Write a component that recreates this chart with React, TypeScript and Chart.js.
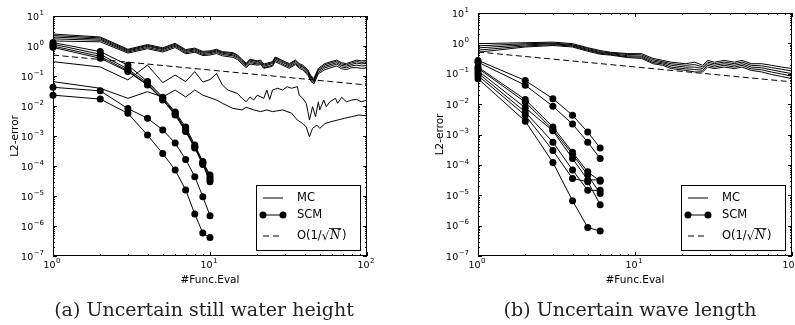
import React, { useEffect, useRef } from "react";
import { Chart, registerables } from "chart.js";

Chart.register(...registerables);

// ---------- (a) Uncertain still water height ----------
// Monte Carlo runs: five close runs plus two low ones
const leftMcN = [1, 2, 3, 4, 5, 6, 7, 8, 9, 10, 11, 12, 14, 15, 16, 17, 18, 20, 21, 22, 25, 26, 28, 30, 32, 35, 37, 39, 42, 44, 46, 47, 49, 54, 59, 64, 69, 74, 80, 86, 92, 100];
const leftMc1 = [2.5, 2.0, 0.78, 1.12, 0.87, 1.23, 0.76, 0.85, 0.66, 0.69, 0.78, 0.65, 0.6, 0.5, 0.355, 0.27, 0.36, 0.32, 0.34, 0.25, 0.3, 0.43, 0.36, 0.3, 0.26, 0.34, 0.26, 0.23, 0.16, 0.1, 0.083, 0.11, 0.18, 0.26, 0.3, 0.34, 0.275, 0.26, 0.3, 0.34, 0.32, 0.33];
const leftMc2 = [2.23, 1.86, 0.73, 1.05, 0.81, 1.15, 0.71, 0.79, 0.62, 0.64, 0.73, 0.61, 0.56, 0.47, 0.33, 0.25, 0.34, 0.3, 0.32, 0.23, 0.28, 0.4, 0.34, 0.28, 0.24, 0.32, 0.24, 0.21, 0.146, 0.091, 0.076, 0.1, 0.164, 0.237, 0.274, 0.31, 0.25, 0.237, 0.274, 0.303, 0.285, 0.294];
const leftMc3 = [1.99, 1.7, 0.68, 0.98, 0.76, 1.07, 0.66, 0.74, 0.57, 0.6, 0.68, 0.57, 0.51, 0.43, 0.3, 0.23, 0.31, 0.27, 0.29, 0.21, 0.26, 0.37, 0.31, 0.26, 0.22, 0.29, 0.22, 0.2, 0.133, 0.083, 0.069, 0.092, 0.15, 0.211, 0.244, 0.276, 0.224, 0.211, 0.244, 0.27, 0.254, 0.262];
const leftMc4 = [1.73, 1.55, 0.63, 0.89, 0.69, 0.98, 0.6, 0.68, 0.52, 0.55, 0.62, 0.52, 0.47, 0.39, 0.28, 0.21, 0.28, 0.25, 0.26, 0.19, 0.23, 0.33, 0.28, 0.23, 0.2, 0.26, 0.2, 0.18, 0.119, 0.074, 0.062, 0.082, 0.133, 0.188, 0.217, 0.246, 0.199, 0.188, 0.217, 0.23, 0.216, 0.223];
const leftMc5 = [1.47, 1.38, 0.58, 0.81, 0.63, 0.89, 0.55, 0.62, 0.48, 0.5, 0.56, 0.47, 0.42, 0.35, 0.25, 0.19, 0.25, 0.23, 0.24, 0.18, 0.21, 0.3, 0.25, 0.21, 0.18, 0.24, 0.18, 0.16, 0.106, 0.066, 0.055, 0.073, 0.119, 0.164, 0.189, 0.215, 0.174, 0.164, 0.189, 0.19, 0.18, 0.185];

const leftMcLowAN = [1, 2, 3, 4, 5, 6, 7, 8, 9, 10, 11, 12, 13, 15, 16, 17, 18, 19, 20, 22, 23, 24, 25, 27, 29, 31, 33, 36, 37, 39, 41, 42, 43, 45, 47, 49, 50, 53, 55, 58, 63, 65, 69, 74, 80, 86, 92, 100];
const leftMcLowA = [0.3, 0.2, 0.074, 0.23, 0.06, 0.107, 0.065, 0.14, 0.063, 0.076, 0.12, 0.05, 0.034, 0.026, 0.018, 0.0138, 0.02, 0.0158, 0.023, 0.018, 0.034, 0.0166, 0.034, 0.039, 0.034, 0.044, 0.039, 0.044, 0.023, 0.018, 0.0123, 0.0065, 0.0034, 0.0095, 0.0044, 0.0138, 0.0074, 0.0158, 0.0095, 0.0138, 0.018, 0.0123, 0.0195, 0.0138, 0.0158, 0.0166, 0.0138, 0.0158];

const leftMcLowBN = [1, 2, 3, 4, 5, 6, 7, 8, 9, 11, 12, 14, 16, 17, 19, 21, 23, 25, 29, 33, 36, 39, 41, 43, 45, 48, 50, 54, 59, 65, 72, 80, 88, 100];
const leftMcLowB = [0.065, 0.039, 0.018, 0.03, 0.02, 0.034, 0.02, 0.034, 0.023, 0.0158, 0.0123, 0.0083, 0.0074, 0.0091, 0.0074, 0.0065, 0.0074, 0.0065, 0.0074, 0.0058, 0.0034, 0.0026, 0.002, 0.00095, 0.0018, 0.0023, 0.0018, 0.0026, 0.003, 0.0034, 0.0039, 0.0044, 0.005, 0.0047];

// Stochastic collocation runs
const leftScmN = [1, 2, 3, 4, 5, 6, 7, 8, 9, 10];
const leftScm1 = [1.3, 0.65, 0.23, 0.065, 0.0195, 0.0063, 0.002, 0.0005, 0.00014, 0.00005];
const leftScm2 = [1.15, 0.53, 0.17, 0.058, 0.018, 0.0058, 0.0017, 0.00045, 0.00013, 0.000042];
const leftScm3 = [1.0, 0.45, 0.15, 0.052, 0.0165, 0.0053, 0.0015, 0.00042, 0.00012, 0.000035];
const leftScm4 = [0.9, 0.39, 0.14, 0.05, 0.016, 0.005, 0.0014, 0.0004, 0.000112, 0.00003];
const leftScm5 = [0.042, 0.032, 0.0082, 0.0039, 0.0016, 0.00058, 0.000166, 0.000044, 0.0000095, 0.0000022];
const leftScm6 = [0.023, 0.017, 0.0057, 0.00107, 0.00026, 0.000074, 0.000016, 0.0000025, 0.00000058, 0.00000041];

// Reference slope O(1/sqrt(N))
const refN = [1, 100];
const leftRef = [0.5, 0.05];

// ---------- (b) Uncertain wave length ----------
const rightMcN = [1, 2, 3, 4, 5, 6, 7, 9, 11, 13, 15, 17, 21, 24, 27, 29, 32, 37, 43, 48, 55, 64, 74, 86, 100];
const rightMc1 = [0.98, 1.05, 1.1, 0.98, 0.72, 0.58, 0.51, 0.46, 0.46, 0.32, 0.275, 0.24, 0.214, 0.24, 0.19, 0.275, 0.24, 0.275, 0.24, 0.275, 0.214, 0.214, 0.19, 0.166, 0.148];
const rightMc2 = [0.83, 0.97, 1.02, 0.91, 0.68, 0.54, 0.48, 0.43, 0.42, 0.29, 0.25, 0.214, 0.19, 0.2, 0.168, 0.243, 0.214, 0.243, 0.214, 0.243, 0.19, 0.182, 0.16, 0.14, 0.123];
const rightMc3 = [0.71, 0.89, 0.97, 0.86, 0.63, 0.5, 0.46, 0.39, 0.38, 0.26, 0.23, 0.19, 0.166, 0.166, 0.148, 0.214, 0.19, 0.214, 0.19, 0.214, 0.166, 0.157, 0.135, 0.116, 0.101];
const rightMc4 = [0.6, 0.82, 0.91, 0.81, 0.59, 0.47, 0.43, 0.36, 0.35, 0.234, 0.21, 0.166, 0.146, 0.138, 0.13, 0.19, 0.166, 0.19, 0.166, 0.19, 0.146, 0.135, 0.114, 0.098, 0.083];
const rightMc5 = [0.51, 0.76, 0.85, 0.76, 0.55, 0.44, 0.41, 0.34, 0.32, 0.214, 0.19, 0.148, 0.129, 0.115, 0.115, 0.166, 0.148, 0.166, 0.148, 0.166, 0.129, 0.115, 0.095, 0.081, 0.069];

const rightScmN = [1, 2, 3, 4, 5, 6];
const rightScm1 = [0.275, 0.06, 0.0151, 0.0043, 0.0012, 0.00036];
const rightScm2 = [0.24, 0.042, 0.0085, 0.0022, 0.00056, 0.000162];
const rightScm3 = [0.166, 0.0141, 0.00178, 0.00026, 0.000059, 0.000029];
const rightScm4 = [0.151, 0.0117, 0.00145, 0.000224, 0.000046, 0.0000115];
const rightScm5 = [0.126, 0.0076, 0.00132, 0.000162, 0.000032, 0.000032];
const rightScm6 = [0.105, 0.0055, 0.00056, 0.000068, 0.0000145, 0.0000145];
const rightScm7 = [0.087, 0.0043, 0.000295, 0.0000355, 0.000028, 0.0000049];
const rightScm8 = [0.069, 0.00275, 0.00012, 0.0000066, 0.00000087, 0.00000066];

const rightRef = [0.52, 0.054];

// ---------- shared helpers ----------
const SANS = '"DejaVu Sans", sans-serif';
const SERIF = '"DejaVu Serif", serif';

// exponent of a power of ten, or null for intermediate ticks
function decadeOf(value: number): number | null {
  const e = Math.log10(value);
  const r = Math.round(e);
  return Math.abs(e - r) > 1e-6 ? null : r;
}

function points(n: number[], v: number[]) {
  return n.map((x, i) => ({ x, y: v[i] }));
}

type Pair = [number[], number[]];

interface PanelSpec {
  top: number;
  mc: Pair[];
  scm: Pair[];
  ref: Pair;
}

const leftSpec: PanelSpec = {
  top: 16,
  mc: [
    [leftMcN, leftMc1], [leftMcN, leftMc2], [leftMcN, leftMc3], [leftMcN, leftMc4], [leftMcN, leftMc5],
    [leftMcLowAN, leftMcLowA], [leftMcLowBN, leftMcLowB],
  ],
  scm: [
    [leftScmN, leftScm1], [leftScmN, leftScm2], [leftScmN, leftScm3],
    [leftScmN, leftScm4], [leftScmN, leftScm5], [leftScmN, leftScm6],
  ],
  ref: [refN, leftRef],
};

const rightSpec: PanelSpec = {
  top: 13,
  mc: [
    [rightMcN, rightMc1], [rightMcN, rightMc2], [rightMcN, rightMc3], [rightMcN, rightMc4], [rightMcN, rightMc5],
  ],
  scm: [
    [rightScmN, rightScm1], [rightScmN, rightScm2], [rightScmN, rightScm3], [rightScmN, rightScm4],
    [rightScmN, rightScm5], [rightScmN, rightScm6], [rightScmN, rightScm7], [rightScmN, rightScm8],
  ],
  ref: [refN, rightRef],
};

const BASE_FONT = `9.5px ${SANS}`;
const EXP_FONT = `7px ${SANS}`;

// "10" with a raised exponent; anchor is the right end (align "right") or the centre
function drawPower(ctx: CanvasRenderingContext2D, exp: number, x: number, baseline: number, align: "right" | "center") {
  const expText = String(exp).replace("-", "\u2212");
  ctx.font = BASE_FONT;
  const bw = ctx.measureText("10").width;
  ctx.font = EXP_FONT;
  const ew = ctx.measureText(expText).width;
  const total = bw + 0.5 + ew;
  const x0 = align === "right" ? x - total : x - total / 2;
  ctx.font = BASE_FONT;
  ctx.fillText("10", x0, baseline);
  ctx.font = EXP_FONT;
  ctx.fillText(expText, x0 + bw + 0.5, baseline - 4.8);
}

// Box frame with inward major/minor ticks on all four sides, plus decade labels
const frameTicks = {
  id: "frameTicks",
  afterDatasetsDraw(chart: any) {
    const { ctx, chartArea, scales } = chart;
    const { left, right, top, bottom } = chartArea;
    const xs = scales.x;
    const ys = scales.y;
    ctx.save();
    ctx.strokeStyle = "#000";
    ctx.lineWidth = 1;
    ctx.beginPath();
    const lo = (s: any) => Math.floor(Math.log10(s.min) + 1e-9);
    const hi = (s: any) => Math.ceil(Math.log10(s.max) - 1e-9);
    for (let d = lo(xs); d <= hi(xs); d++) {
      for (let k = 1; k <= 9; k++) {
        const v = k * Math.pow(10, d);
        if (v < xs.min * 0.9999 || v > xs.max * 1.0001) continue;
        const px = Math.round(xs.getPixelForValue(v)) + 0.5;
        const len = k === 1 ? 4 : 2;
        ctx.moveTo(px, bottom);
        ctx.lineTo(px, bottom - len);
        ctx.moveTo(px, top);
        ctx.lineTo(px, top + len);
      }
    }
    for (let d = lo(ys); d <= hi(ys); d++) {
      for (let k = 1; k <= 9; k++) {
        const v = k * Math.pow(10, d);
        if (v < ys.min * 0.9999 || v > ys.max * 1.0001) continue;
        const py = Math.round(ys.getPixelForValue(v)) + 0.5;
        const len = k === 1 ? 4 : 2;
        ctx.moveTo(left, py);
        ctx.lineTo(left + len, py);
        ctx.moveTo(right, py);
        ctx.lineTo(right - len, py);
      }
    }
    ctx.stroke();
    ctx.strokeRect(left + 0.5, top + 0.5, right - left - 1, bottom - top - 1);

    // decade labels taken from the scales' own ticks
    ctx.fillStyle = "#000";
    ctx.textAlign = "left";
    ctx.textBaseline = "alphabetic";
    xs.ticks.forEach((t: any) => {
      const e = decadeOf(t.value);
      if (e === null) return;
      drawPower(ctx, e, xs.getPixelForValue(t.value) - 1, bottom + 11.5, "center");
    });
    ys.ticks.forEach((t: any) => {
      const e = decadeOf(t.value);
      if (e === null) return;
      drawPower(ctx, e, left - 9, ys.getPixelForValue(t.value) + 3.5, "right");
    });
    ctx.restore();
  },
};

// Legend box in the lower right corner of the plot
const boxLegend = {
  id: "boxLegend",
  afterDraw(chart: any) {
    const { ctx, chartArea } = chart;
    const w = 104;
    const h = 65;
    const x0 = Math.round(chartArea.right - 7 - w);
    const y0 = Math.round(chartArea.bottom - 6 - h);
    ctx.save();
    ctx.fillStyle = "#fff";
    ctx.fillRect(x0, y0, w, h);
    ctx.strokeStyle = "#000";
    ctx.lineWidth = 1;
    ctx.strokeRect(x0 + 0.5, y0 + 0.5, w, h);

    const sx0 = x0 + 7;
    const sx1 = x0 + 27;
    const tx = x0 + 41;
    const rows = [y0 + 13, y0 + 30, y0 + 51];

    ctx.strokeStyle = "#000";
    ctx.lineWidth = 1;
    ctx.beginPath();
    ctx.moveTo(sx0, rows[0]);
    ctx.lineTo(sx1, rows[0]);
    ctx.stroke();

    ctx.beginPath();
    ctx.moveTo(sx0, rows[1]);
    ctx.lineTo(sx1, rows[1]);
    ctx.stroke();
    ctx.fillStyle = "#000";
    [sx0, sx1].forEach((cx) => {
      ctx.beginPath();
      ctx.arc(cx, rows[1], 3.5, 0, Math.PI * 2);
      ctx.fill();
    });

    ctx.setLineDash([6, 4]);
    ctx.beginPath();
    ctx.moveTo(sx0, rows[2]);
    ctx.lineTo(sx1 - 1, rows[2]);
    ctx.stroke();
    ctx.setLineDash([]);

    ctx.fillStyle = "#000";
    ctx.textBaseline = "middle";
    ctx.textAlign = "left";
    ctx.font = `11.5px ${SANS}`;
    ctx.fillText("MC", tx, rows[0]);
    ctx.fillText("SCM", tx, rows[1]);

    let cx = tx;
    const head = "O(1/";
    ctx.fillText(head, cx, rows[2]);
    cx += ctx.measureText(head).width;
    ctx.font = `12px ${SERIF}`;
    ctx.fillText("\u221a", cx, rows[2] + 1);
    const rw = ctx.measureText("\u221a").width;
    cx += rw;
    ctx.font = `italic 12px ${SERIF}`;
    const nw = ctx.measureText("N").width;
    ctx.beginPath();
    ctx.lineWidth = 0.8;
    ctx.moveTo(cx - 0.5, rows[2] - 7.5);
    ctx.lineTo(cx + nw + 1.5, rows[2] - 7.5);
    ctx.stroke();
    ctx.fillText("N", cx + 0.5, rows[2]);
    cx += nw + 2;
    ctx.font = `11.5px ${SANS}`;
    ctx.fillText(")", cx, rows[2]);
    ctx.restore();
  },
};

function buildConfig(spec: PanelSpec): any {
  const datasets: any[] = [];
  spec.mc.forEach(([n, v]) => {
    datasets.push({
      data: points(n, v),
      borderColor: "#000",
      borderWidth: 1,
      pointRadius: 0,
      tension: 0,
      fill: false,
      clip: false,
    });
  });
  spec.scm.forEach(([n, v]) => {
    datasets.push({
      data: points(n, v),
      borderColor: "#000",
      borderWidth: 1,
      pointRadius: 3.5,
      pointBackgroundColor: "#000",
      pointBorderWidth: 0,
      tension: 0,
      fill: false,
      clip: false,
    });
  });
  datasets.push({
    data: points(spec.ref[0], spec.ref[1]),
    borderColor: "#000",
    borderWidth: 1,
    borderDash: [6, 3.5],
    pointRadius: 0,
    fill: false,
  });

  return {
    type: "line",
    data: { datasets },
    plugins: [frameTicks, boxLegend],
    options: {
      responsive: false,
      animation: false,
      devicePixelRatio: 1,
      events: [],
      layout: { padding: { top: spec.top, right: 33, left: 0, bottom: 0 } },
      plugins: { legend: { display: false }, tooltip: { enabled: false } },
      scales: {
        x: {
          type: "logarithmic",
          min: 1,
          max: 100,
          grid: { display: false, drawTicks: false },
          border: { display: false },
          ticks: { display: false, autoSkip: false },
          title: {
            display: true,
            text: "#Func.Eval",
            color: "#000",
            font: { family: SANS, size: 10.5 },
            padding: { top: 0, bottom: 13 },
          },
          afterFit: (s: any) => {
            s.height = 44;
          },
        },
        y: {
          type: "logarithmic",
          min: 1e-7,
          max: 10,
          grid: { display: false, drawTicks: false },
          border: { display: false },
          ticks: { display: false, autoSkip: false },
          title: {
            display: true,
            text: "L2-error",
            color: "#000",
            font: { family: SANS, size: 10.5 },
            padding: { top: 9, bottom: 0 },
          },
          afterFit: (s: any) => {
            s.width = 53;
          },
        },
      },
    },
  };
}

function Panel({ spec }: { spec: PanelSpec }) {
  const ref = useRef<HTMLCanvasElement | null>(null);
  useEffect(() => {
    if (!ref.current) return;
    const chart = new Chart(ref.current, buildConfig(spec));
    return () => chart.destroy();
  }, [spec]);
  return <canvas ref={ref} width={400} height={300} style={{ width: 400, height: 300, display: "block" }} />;
}

const captionStyle: React.CSSProperties = {
  position: "absolute",
  width: 400,
  textAlign: "center",
  fontFamily: SERIF,
  fontSize: 19,
  lineHeight: "19px",
  color: "#222",
  whiteSpace: "nowrap",
};

export default function App() {
  return (
    <div
      style={{
        position: "fixed",
        left: 0,
        top: 0,
        width: 795,
        height: 325,
        overflow: "hidden",
        background: "#fff",
      }}
    >
      <div style={{ position: "absolute", left: 0, top: 0 }}>
        <Panel spec={leftSpec} />
      </div>
      <div style={{ position: "absolute", left: 425, top: 0 }}>
        <Panel spec={rightSpec} />
      </div>
      <div style={{ ...captionStyle, left: 4, top: 300 }}>(a) Uncertain still water height</div>
      <div style={{ ...captionStyle, left: 430, top: 300 }}>(b) Uncertain wave length</div>
    </div>
  );
}
